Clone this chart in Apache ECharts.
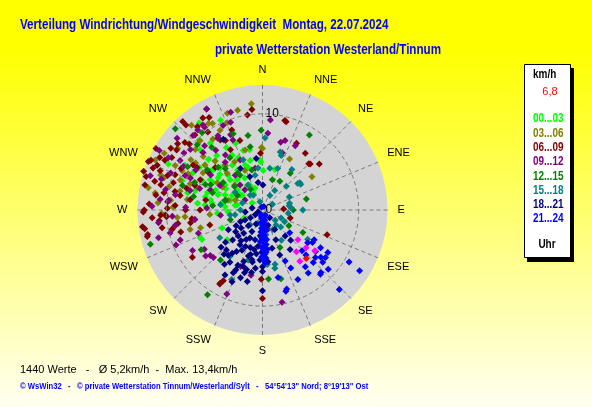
<!DOCTYPE html>
<html>
<head>
<meta charset="utf-8">
<script src="https://cdn.jsdelivr.net/npm/echarts@6/dist/echarts.min.js"></script>
<style>
    html, body { margin: 0; padding: 0; }
    #chart { width: 592px; height: 407px; }
</style>
</head>
<body>
<div id="chart"></div>
<script>
// wind direction names, clockwise from north
const dirNames = ['N', 'NNE', 'NE', 'ENE', 'E', 'ESE', 'SE', 'SSE', 'S', 'SSW', 'SW', 'WSW', 'W', 'WNW', 'NW', 'NNW'];
const bandNames = ['00...03', '03...06', '06...09', '09...12', '12...15', '15...18', '18...21', '21...24'];
const currentSpeed = '6,8';
const speedMax = 13;
const speedStep = 10;

// [speed km/h, direction deg]
const h00_03 = [[11.2,324],[10.3,335],[8.3,331],[7.5,338],[10.9,296],[6.6,309],[6.2,315],[5.6,326],[5.0,339],[5.3,346],
    [7.0,296],[5.9,299],[4.7,304],[4.1,320],[3.0,328],[6.0,288],[4.9,289],[3.5,296],[2.6,306],[2.4,341],
    [6.8,276],[5.3,278],[3.9,275],[2.9,280],[1.3,304],[8.2,298],[8.0,283],[7.7,313],[4.6,313],[2.8,304],
    [4.8,230],[7.0,244],[6.5,342],[5.2,357],[4.1,1],[2.0,331],[4.3,280],[4.7,266],[6.8,307],[4.7,341],
    [5.0,304],[5.0,358],[4.4,17],[7.1,246],[5.1,315],[4.9,328],[5.3,293],[3.8,331],[4.2,292],[7.6,308],
    [6.5,331],[2.9,333],[3.5,318],[3.5,287],[5.7,306],[5.5,281],[9.0,314],[7.5,330],[6.0,335],[6.0,275],
    [7.3,286],[4.6,246],[2.1,247],[6.4,348],[7.1,316],[9.3,300],[2.7,281],[3.6,267],[8.8,322],[9.8,318],
    [7.9,304],[6.3,300],[5.8,310],[8.9,290],[4.4,300],[3.3,308],[6.1,283],[7.4,320]];
const h03_06 = [[11.1,354],[10.7,346],[10.7,340],[10.4,330],[10.3,312],[9.4,312],[10.2,297],[12.1,281],[11.3,279],[9.3,296],
    [7.3,302],[7.1,316],[5.3,316],[7.2,289],[5.5,301],[3.7,286],[7.9,278],[3.9,312],[4.5,336],[6.4,0],
    [10.6,328],[10.9,306],[10.9,274],[10.8,288],[9.3,272],[7.1,262],[6.0,28],[6.2,56],[6.5,359],[9.4,259],
    [8.9,265],[6.7,254],[8.1,265],[3.0,290],[6.0,320],[8.5,305],[4.8,300],[9.0,325],[5.8,330],[8.0,290],
    [9.1,305],[9.6,276],[9.7,318],[9.4,332],[9.1,290],[5.5,265],[6.1,320],[11.2,289],[6.5,344],[7.8,255],
    [11.8,300],[10.0,284],[12.3,295],[8.6,296],[11.5,320],[9.8,338],[8.3,312],[10.5,268],[7.6,308],[8.8,283]];
const h06_09 = [[10.5,354],[10.0,351],[11.4,327],[11.1,330],[13.2,305],[9.9,325],[11.2,308],[10.7,311],[11.5,304],[10.9,305],
    [10.9,300],[12.9,293],[12.2,291],[11.9,293],[11.4,291],[10.5,290],[9.8,292],[9.7,287],[9.3,282],[9.9,275],
    [8.6,303],[8.1,303],[6.9,305],[6.6,312],[12.7,294],[13.4,275],[12.4,269],[12.4,261],[12.2,258],[10.6,260],
    [9.9,271],[7.6,260],[8.8,210],[9.2,180],[7.2,111],[9.5,15],[6.9,46],[12.0,331],[9.6,14],[7.8,27],
    [7.4,37],[6.8,45],[7.6,51],[5.9,358],[12.3,270],[12.6,262],[12.3,257],[10.0,266],[8.8,236],[8.9,210],
    [8.4,209],[7.4,263],[8.9,261],[7.2,181],[2.2,87],[3.0,106],[7.1,332],[8.5,329],[7.5,290],[6.5,270],
    [8.0,270],[7.6,278],[5.7,254],[7.6,342],[8.9,339],[10.9,284],[10.1,267],[8.8,255],[11.2,278],[11.9,318],
    [10.5,318],[11.4,297],[8.7,280],[7.2,296],[8.2,332],[12.6,286],[10.6,267],[6.0,280],[9.1,273],[12.8,300],
    [12.0,297],[11.6,285],[12.5,282],[13.0,288],[11.8,273],[10.4,280],[9.5,297],[10.2,312],[11.0,322],[12.4,318],
    [10.8,264],[11.5,266],[9.6,258],[8.2,286]];
const h09_12 = [[12.0,331],[9.7,340],[10.5,325],[9.7,335],[9.0,329],[7.9,337],[10.7,321],[10.6,317],[11.2,299],[10.1,306],
    [10.3,292],[8.2,294],[6.3,322],[6.9,289],[8.0,272],[2.1,300],[4.4,350],[5.8,272],[9.8,276],[10.7,342],
    [9.9,256],[9.1,250],[7.2,229],[9.5,203],[6.9,190],[9.8,168],[9.7,248],[8.4,240],[7.6,231],[7.1,226],
    [6.3,201],[7.3,236],[7.1,250],[9.4,5],[8.0,4],[7.6,18],[7.5,27],[7.3,15],[6.3,19],[2.1,165],
    [4.6,322],[6.9,326],[7.9,322],[9.0,318],[8.1,301],[8.8,294],[5.8,291],[2.8,319],[4.4,263],[5.7,336],
    [10.0,301],[10.3,282],[12.2,287],[9.8,310],[6.5,304],[9.2,280],[8.5,337],[10.7,276],[7.1,262],[3.5,318],
    [5.1,300],[9.2,260],[11.6,310],[12.4,300],[11.0,287],[9.4,299],[10.8,325],[8.8,328],[11.5,272],[10.9,263],
    [7.8,285],[8.6,314],[9.4,266],[11.2,255]];
const h12_15 = [[9.2,32],[8.3,359],[4.8,37],[3.5,31],[3.3,18],[4.7,76],[3.2,90],[7.2,175],[7.4,165],[4.8,119],
    [3.2,121],[4.3,155],[12.2,253],[10.5,213],[7.6,237],[6.8,220],[12.4,313],[8.5,339],[8.4,321],[9.6,315],
    [6.7,349],[7.9,349],[6.4,328],[6.4,314],[7.1,306],[5.0,305],[4.6,326],[5.5,289],[7.3,281],[4.3,345],
    [8.7,287],[3.0,300],[5.8,318],[2.5,330],[6.0,296],[4.0,284],[4.0,285],[4.3,327],[6.5,294],[3.5,253],
    [9.0,300],[10.2,322],[5.2,275],[7.6,292],[3.8,310]];
const h15_18 = [[6.0,19],[4.6,20],[4.4,10],[4.6,53],[4.8,56],[3.1,64],[2.9,76],[4.2,90],[7.5,2],[5.2,36],
    [4.8,54],[6.3,17],[2.8,81],[2.1,138],[2.6,133],[2.7,97],[3.0,86],[5.6,123],[5.8,167],[2.3,152],
    [2.6,172],[1.7,129],[2.1,113],[7.9,204],[5.3,237],[5.9,215],[5.4,196],[5.6,339],[4.4,354],[3.0,330],
    [3.4,303],[1.8,328],[2.2,289],[0.9,343],[3.4,261],[4.4,277],[2.3,270],[2.4,32],[1.7,27],[2.6,118],
    [3.7,148],[5.7,175],[6.2,168],[1.2,60],[3.5,45],[1.5,200],[2.0,220],[2.0,320],[2.9,260],[3.7,348]];
const h18_21 = [[0.9,236],[1.5,237],[2.1,240],[2.6,242],[3.2,239],[2.2,222],[1.6,205],[2.5,206],[3.1,219],[3.7,223],
    [4.4,225],[3.5,209],[3.2,194],[2.7,185],[3.8,187],[4.1,198],[4.7,207],[5.1,212],[5.9,217],[5.0,197],
    [4.6,188],[4.4,181],[5.5,191],[5.7,200],[6.3,204],[6.4,195],[6.1,187],[6.4,180],[6.8,204],[5.5,215],
    [5.1,229],[5.8,228],[6.4,212],[7.8,210],[8.1,203],[8.4,180],[6.8,196],[6.1,221],[4.1,166],[3.4,156],
    [3.6,139],[4.3,137],[1.7,160],[2.4,148],[1.1,137],[5.0,159],[5.0,145],[5.4,174],[8.4,331],[4.9,332],
    [5.4,353],[3.7,339],[2.9,351],[2.6,1],[1.1,281],[1.8,263],[0.5,246],[4.3,213],[3.2,204],[3.6,231],
    [4.1,240],[5.2,183],[4.2,192],[6.2,199],[5.3,192],[5.9,180],[4.2,205],[7.2,205],[6.9,215],[7.4,198],
    [5.6,222],[3.9,215],[4.8,195],[2.9,230],[6.6,190],[7.6,192]];
const h21_24 = [[0.4,20],[0.3,340],[0.6,150],[0.8,170],[1.0,175],[1.2,178],[1.4,172],[1.6,180],[1.8,176],[2.0,178],
    [2.2,174],[2.4,179],[2.6,176],[2.8,178],[3.0,175],[3.2,179],[3.4,177],[3.6,174],[3.8,178],[4.0,176],
    [4.2,179],[4.4,175],[4.6,177],[4.8,178],[5.0,176],[5.2,178],[5.5,177],[1.1,168],[2.1,171],[3.1,172],
    [4.1,173],[0.9,185],[1.9,183],[2.9,182],[3.9,181],[4.9,181],[0.5,200],[0.7,190],[1.3,186],[2.3,184],
    [3.3,184],
    [6.2,120],[6.2,123],[7.0,128],[7.8,129],[8.2,127],[7.4,132],[8.1,123],[6.5,136],[7.4,143],[8.1,144],
    [9.0,138],[8.9,137],[8.1,153],[8.8,164],[7.2,167],[10.5,121],[11.9,122],[11.5,136],[6.7,154],[7.2,123],
    [5.8,126],[7.6,136],[8.3,131],[9.2,132],[5.9,136],[5.8,156],[8.6,163],[3.7,130]];
// last hour and the current value
const lastHour = [[4.8,130],[5.6,141],[6.0,131],[6.9,128],[6.6,144]];
const current = [[6.8,138]];

const bandData = [h00_03, h03_06, h06_09, h09_12, h12_15, h15_18, h18_21, h21_24];
const bandColors = ['#00ff00', '#808000', '#800000', '#800080', '#008000', '#008080', '#000080', '#0000ff'];

const FONT = '"Liberation Sans", Arial, sans-serif';
const NARROW = 0.83;
const polarCenter = [262.5, 210];
const polarRadius = 125;
const gridLine = { color: '#7a7a7a', type: [4, 3], width: 1 };

let chart = echarts.init(document.getElementById('chart'), null, { renderer: 'canvas' });

function pointSeries(name, data, color) {
    return {
        name: name,
        type: 'scatter',
        coordinateSystem: 'polar',
        symbol: 'diamond',
        symbolSize: 7,
        zlevel: 1,
        z: 20,
        itemStyle: { color: color, opacity: 1 },
        silent: true,
        data: data
    };
}

let series = bandData.map((d, i) => pointSeries(bandNames[i], d, bandColors[i]));
series.push(pointSeries('last', lastHour, '#ff00ff'));
series.push(pointSeries('now', current, '#ff0000'));

function label(text, x, y, font, color, align, sx) {
    return {
        type: 'text', x: x, y: y, scaleX: sx || 1,
        style: { text: text, fill: color, font: font, textAlign: align || 'left', textVerticalAlign: 'middle' }
    };
}

// legend box on the right, drawn by hand
let legendItems = [
    { type: 'rect', shape: { x: 527, y: 68, width: 47, height: 194 }, style: { fill: '#000' } },
    { type: 'rect', shape: { x: 524.5, y: 64.5, width: 46, height: 193 }, style: { fill: '#fff', stroke: '#000', lineWidth: 1 } },
    label('km/h', 533, 75, 'bold 12px ' + FONT, '#000', 'left', NARROW),
    label(currentSpeed, 550, 92, '11px ' + FONT, '#ff0000', 'center'),
    label('Uhr', 547, 245, 'bold 12px ' + FONT, '#000', 'center', NARROW)
];
bandNames.forEach((b, i) => {
    legendItems.push(label(b, 533, 119 + i * 14.3, 'bold 12px ' + FONT, bandColors[i], 'left', NARROW));
});

const hidden = { show: false };

let option = {
    animation: false,
    backgroundColor: {
        type: 'linear', x: 0, y: 0, x2: 0, y2: 1,
        colorStops: [
            { offset: 0, color: '#ffff00' },
            { offset: 0.12, color: '#ffff00' },
            { offset: 1, color: '#fffff2' }
        ]
    },
    polar: { center: polarCenter, radius: polarRadius },
    angleAxis: {
        type: 'value',
        min: 0,
        max: 360,
        interval: 22.5,
        startAngle: 90,
        clockwise: true,
        zlevel: 1,
        z: 5,
        axisLine: hidden,
        // ticks pointing inward across the whole radius make the spokes
        axisTick: { show: true, inside: true, length: polarRadius, lineStyle: gridLine },
        axisLabel: {
            margin: 10,
            color: '#000',
            fontSize: 11,
            fontFamily: FONT,
            formatter: v => dirNames[Math.round(v / 22.5) % 16]
        },
        splitLine: hidden
    },
    radiusAxis: {
        type: 'value',
        min: 0,
        max: speedMax,
        interval: speedStep,
        zlevel: 1,
        z: 30,
        axisLine: hidden,
        axisTick: hidden,
        axisLabel: {
            margin: -3,
            align: 'left',
            verticalAlign: 'middle',
            color: '#000',
            fontSize: 12,
            fontFamily: FONT,
            formatter: v => (v % speedStep === 0 ? String(v) : '')
        },
        splitLine: { show: true, lineStyle: { color: [gridLine.color, gridLine.color, 'rgba(0,0,0,0)'], type: gridLine.type, width: 1 } }
    },
    graphic: [
        // grey disc behind the polar grid
        { type: 'circle', zlevel: 0, z: 0, silent: true, shape: { cx: polarCenter[0], cy: polarCenter[1], r: polarRadius }, style: { fill: '#d4d4d4' } },
        label('Verteilung Windrichtung/Windgeschwindigkeit  Montag, 22.07.2024', 20, 25, 'bold 14px ' + FONT, '#0000ff', 'left', NARROW),
        label('private Wetterstation Westerland/Tinnum', 215, 50, 'bold 14px ' + FONT, '#0000ff', 'left', NARROW),
        label('1440 Werte   -   \u00d8 5,2km/h  -  Max. 13,4km/h', 20, 370, '11px ' + FONT, '#000'),
        label('\u00a9 WsWin32   -   \u00a9 private Wetterstation Tinnum/Westerland/Sylt   -   54\u00b054\'13" Nord; 8\u00b019\'13" Ost',
            20, 387, 'bold 8.5px ' + FONT, '#0000ff', 'left', 0.9)
    ].concat(legendItems),
    series: series
};

chart.setOption(option);
</script>
</body>
</html>
